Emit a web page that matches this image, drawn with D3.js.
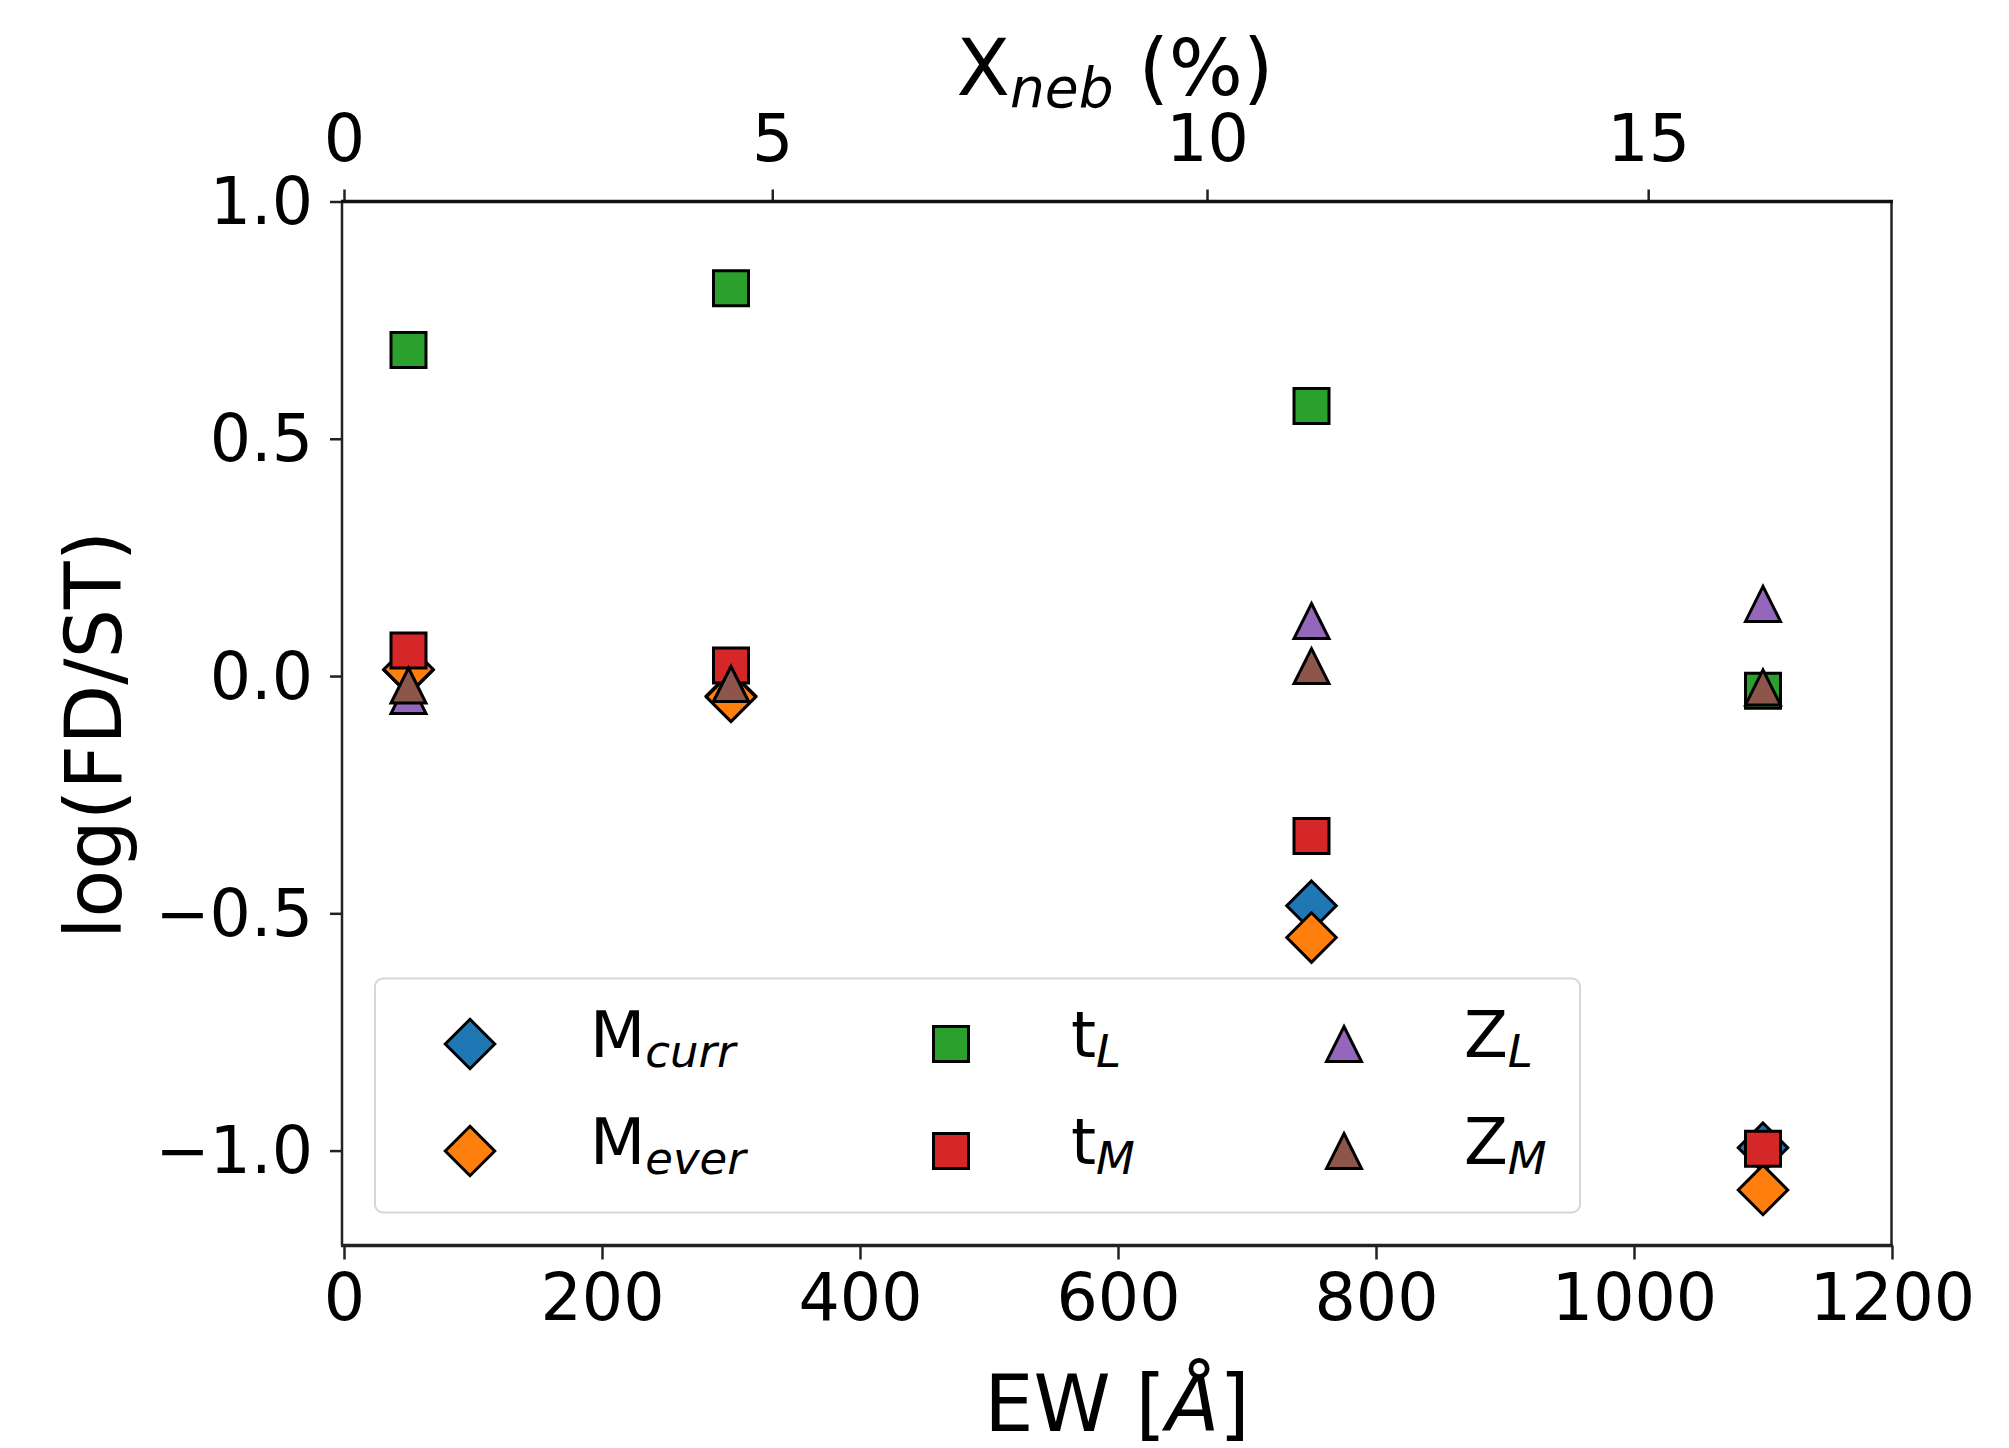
<!DOCTYPE html>
<html>
<head>
<meta charset="utf-8">
<script src="https://cdn.jsdelivr.net/npm/d3@7"></script>
<style>
  body { margin: 0; background: #fff; }
  text { font-family: "DejaVu Sans", sans-serif; fill: #000; }
</style>
</head>
<body>
<svg width="2009" height="1448"></svg>
<script>
var svg = d3.select('svg');

// data
var ew = [50, 300, 750, 1100];
var mCurr = [0.013, -0.042, -0.484, -0.994];
var mEver = [0.014, -0.044, -0.551, -1.083];
var tL = [0.687, 0.817, 0.569, -0.031];
var tM = [0.054, 0.022, -0.337, -0.996];
var zL = [-0.042, -0.017, 0.116, 0.152];
var zM = [-0.020, -0.017, 0.021, -0.024];

var yTicks = [-1.0, -0.5, 0.0, 0.5, 1.0];
var ewTicks = [0, 200, 400, 600, 800, 1000, 1200];
// top axis: X_neb labels and where they sit in EW units
var xnebLabels = ['0', '5', '10', '15'];
var xnebAtEw = [0, 332, 669, 1011];

var series = [
    {name: 'M', sub: 'curr', color: '#1f77b4', shape: 'diamond', vals: mCurr},
    {name: 'M', sub: 'ever', color: '#ff7f0e', shape: 'diamond', vals: mEver},
    {name: 't', sub: 'L', color: '#2ca02c', shape: 'square', vals: tL},
    {name: 't', sub: 'M', color: '#d62728', shape: 'square', vals: tM},
    {name: 'Z', sub: 'L', color: '#9467bd', shape: 'triangle', vals: zL},
    {name: 'Z', sub: 'M', color: '#8c564b', shape: 'triangle', vals: zM}
];

var pLeft = 344, pRight = 1892, pTop = 201.5, pBottom = 1245.5;

var x = d3.scaleLinear().domain([0, 1200]).range([pLeft, pRight]);
var y = d3.scaleLinear().domain([-1.2, 1.0]).range([pBottom, pTop]);

var ms = 35;   // marker size in px

function markerPath(shape) {
    var h = ms / 2;
    if (shape == 'square') {
        return 'M' + (-h) + ',' + (-h) + 'H' + h + 'V' + h + 'H' + (-h) + 'Z';
    }
    if (shape == 'diamond') {
        var d = ms * Math.SQRT1_2;
        return 'M0,' + (-d) + 'L' + d + ',0L0,' + d + 'L' + (-d) + ',0Z';
    }
    return 'M0,' + (-h) + 'L' + h + ',' + h + 'L' + (-h) + ',' + h + 'Z';
}

svg.append('rect').attr('width', 2009).attr('height', 1448).attr('fill', '#fff');

// axes
var gLeft = svg.append('g')
    .attr('transform', 'translate(' + 342 + ',0)')
    .call(d3.axisLeft(y).tickValues(yTicks).tickFormat(d3.format('.1f')).tickSize(12).tickPadding(17));

var gBottom = svg.append('g')
    .attr('transform', 'translate(0,' + pBottom + ')')
    .call(d3.axisBottom(x).tickValues(ewTicks).tickFormat(d3.format('d')).tickSize(14).tickPadding(12));

var gTop = svg.append('g')
    .attr('transform', 'translate(0,' + pTop + ')')
    .call(d3.axisTop(x).tickValues(xnebAtEw).tickFormat(function (d, i) {
        return xnebLabels[i];
    }).tickSize(12).tickPadding(29));

[gLeft, gBottom, gTop].forEach(function (g) {
    g.select('.domain').remove();
    g.selectAll('.tick line').attr('stroke', '#222').attr('stroke-width', 2.5);
    g.selectAll('.tick text')
        .attr('font-family', 'DejaVu Sans')
        .attr('font-size', 65)
        .attr('fill', '#000');
});
gLeft.selectAll('.tick text').attr('dy', '0.34em');
gBottom.selectAll('.tick text').attr('dy', '0.74em');

// frame
svg.append('line').attr('x1', 342).attr('x2', 342).attr('y1', pTop).attr('y2', pBottom)
    .attr('stroke', '#222').attr('stroke-width', 2.5);
svg.append('line').attr('x1', 1891.5).attr('x2', 1891.5).attr('y1', pTop).attr('y2', pBottom)
    .attr('stroke', '#222').attr('stroke-width', 2.5);
svg.append('line').attr('x1', 341).attr('x2', 1893).attr('y1', pTop).attr('y2', pTop)
    .attr('stroke', '#111').attr('stroke-width', 3.5);
svg.append('line').attr('x1', 341).attr('x2', 1893).attr('y1', pBottom).attr('y2', pBottom)
    .attr('stroke', '#222').attr('stroke-width', 3.5);

// points, one series after the other
series.forEach(function (s) {
    svg.append('g').selectAll('path')
        .data(s.vals)
        .enter()
        .append('path')
        .attr('d', markerPath(s.shape))
        .attr('transform', function (d, i) {
            return 'translate(' + x(ew[i]) + ',' + y(d) + ')';
        })
        .attr('fill', s.color)
        .attr('stroke', '#000')
        .attr('stroke-width', 3)
        .attr('stroke-linejoin', 'miter');
});

// axis titles
var xl = svg.append('text').attr('x', 1117).attr('y', 1431).attr('text-anchor', 'middle').attr('font-size', 78);
xl.append('tspan').text('EW [');
xl.append('tspan').attr('font-style', 'italic').text('Å');
xl.append('tspan').text(']');

var tl = svg.append('text').attr('x', 1115).attr('y', 95).attr('text-anchor', 'middle').attr('font-size', 78);
tl.append('tspan').text('X');
tl.append('tspan').attr('font-style', 'italic').attr('font-size', 55).attr('dy', 12).text('neb');
tl.append('tspan').attr('dy', -12).text(' (%)');

svg.append('text')
    .attr('transform', 'translate(121,735) rotate(-90)')
    .attr('text-anchor', 'middle')
    .attr('font-size', 78)
    .text('log(FD/ST)');

// legend
svg.append('rect')
    .attr('x', 375).attr('y', 978.5)
    .attr('width', 1205).attr('height', 234)
    .attr('rx', 8)
    .attr('fill', '#fff').attr('fill-opacity', 0.8)
    .attr('stroke', '#d6d6d6').attr('stroke-width', 2);

var legX = [470, 951, 1344];
var legY = [1044, 1151];

series.forEach(function (s, i) {
    var cx = legX[Math.floor(i / 2)], cy = legY[i % 2];
    svg.append('path')
        .attr('d', markerPath(s.shape))
        .attr('transform', 'translate(' + cx + ',' + cy + ')')
        .attr('fill', s.color)
        .attr('stroke', '#000')
        .attr('stroke-width', 3);
    var t = svg.append('text').attr('x', cx + 120).attr('y', cy + 13).attr('font-size', 64);
    t.append('tspan').text(s.name);
    t.append('tspan').attr('font-style', 'italic').attr('font-size', 45).attr('dy', 10).text(s.sub);
});
</script>
</body>
</html>
